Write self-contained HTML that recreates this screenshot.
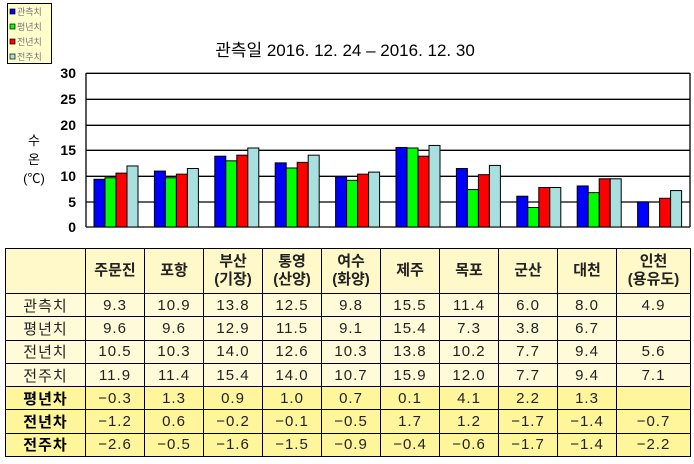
<!DOCTYPE html>
<html><head><meta charset="utf-8"><style>
body{margin:0;width:694px;height:464px;background:#fff;position:relative;overflow:hidden;font-family:"Liberation Sans","Noto Sans CJK KR",sans-serif}
table{position:absolute;left:5px;top:248px;border-collapse:collapse;table-layout:fixed}
td{border:1.5px solid #000;text-align:center;font-size:15px;padding:0;height:22.3px;color:#222;letter-spacing:1px}
tr.h td{height:44px;font-weight:bold;font-size:15px;line-height:18px;letter-spacing:0}
tr.a td{background:#fffbd8}
tr.b td{background:#fff59a}
tr.b td:first-child{font-weight:bold;color:#000}
tr.h td{background:#fff8c8}
</style></head><body>
<svg width="694" height="247" style="position:absolute;left:0;top:0">
<rect x="7.5" y="3.5" width="44" height="60" fill="#ffffcc" stroke="#000"/>
<g font-size="9" fill="#777" font-family="Liberation Sans,Noto Sans CJK KR,sans-serif">
<rect x="10" y="9" width="5" height="5" fill="#0000ff" stroke="#000" stroke-width="0.7"/><text x="17" y="15">관측치</text>
<rect x="10" y="24" width="5" height="5" fill="#00ff00" stroke="#000" stroke-width="0.7"/><text x="17" y="30">평년치</text>
<rect x="10" y="39" width="5" height="5" fill="#ff0000" stroke="#000" stroke-width="0.7"/><text x="17" y="45">전년치</text>
<rect x="10" y="54" width="5" height="5" fill="#a8e0e0" stroke="#000" stroke-width="0.7"/><text x="17" y="60">전주치</text>
</g>
<text x="345" y="56" font-size="17" text-anchor="middle" fill="#000">관측일 2016. 12. 24 – 2016. 12. 30</text>
<g stroke="#000" stroke-width="1.3">
<line x1="86" y1="73.3" x2="690" y2="73.3"/><line x1="86" y1="99.3" x2="690" y2="99.3"/><line x1="86" y1="125.3" x2="690" y2="125.3"/><line x1="86" y1="150.3" x2="690" y2="150.3"/><line x1="86" y1="176.3" x2="690" y2="176.3"/><line x1="86" y1="202" x2="690" y2="202"/><line x1="86" y1="227" x2="690" y2="227"/>
<line x1="86" y1="73" x2="86" y2="227"/><line x1="690" y1="73" x2="690" y2="227"/>
</g>
<g font-size="14" font-weight="bold" text-anchor="end" fill="#000">
<text x="76" y="78">30</text><text x="76" y="104">25</text><text x="76" y="130">20</text><text x="76" y="155">15</text><text x="76" y="181">10</text><text x="76" y="207">5</text><text x="76" y="232">0</text>
</g>
<g font-size="13" text-anchor="middle" fill="#000"><text x="34" y="145">수</text><text x="34" y="164">온</text><text x="34" y="183">(℃)</text></g>
<g id="bars" stroke="#000" stroke-width="1"></g>
</svg>
<script>
var d=[[9.3,9.6,10.5,11.9],[10.9,9.6,10.3,11.4],[13.8,12.9,14.0,15.4],[12.5,11.5,12.6,14.0],[9.8,9.1,10.3,10.7],[15.5,15.4,13.8,15.9],[11.4,7.3,10.2,12.0],[6.0,3.8,7.7,7.7],[8.0,6.7,9.4,9.4],[4.9,null,5.6,7.1]];
var c=["#0000ff","#00ff00","#ff0000","#a8e0e0"],s="";
d.forEach(function(g,k){g.forEach(function(v,i){if(v==null)return;var h=v*5.13,x=86+k*60.4+8+i*11;s+='<rect x="'+x+'" y="'+(227-h)+'" width="11" height="'+h+'" fill="'+c[i]+'"/>';});});
document.getElementById("bars").innerHTML=s;
</script>
<table>
<colgroup><col style="width:80px"><col style="width:59px"><col style="width:59px"><col style="width:59px"><col style="width:59px"><col style="width:59px"><col style="width:59px"><col style="width:59px"><col style="width:59px"><col style="width:59px"><col style="width:74px"></colgroup>
<tr class="h"><td></td><td>주문진</td><td>포항</td><td>부산<br>(기장)</td><td>통영<br>(산양)</td><td>여수<br>(화양)</td><td>제주</td><td>목포</td><td>군산</td><td>대천</td><td>인천<br>(용유도)</td></tr>
<tr class="a"><td>관측치</td><td>9.3</td><td>10.9</td><td>13.8</td><td>12.5</td><td>9.8</td><td>15.5</td><td>11.4</td><td>6.0</td><td>8.0</td><td>4.9</td></tr>
<tr class="a"><td>평년치</td><td>9.6</td><td>9.6</td><td>12.9</td><td>11.5</td><td>9.1</td><td>15.4</td><td>7.3</td><td>3.8</td><td>6.7</td><td></td></tr>
<tr class="a"><td>전년치</td><td>10.5</td><td>10.3</td><td>14.0</td><td>12.6</td><td>10.3</td><td>13.8</td><td>10.2</td><td>7.7</td><td>9.4</td><td>5.6</td></tr>
<tr class="a"><td>전주치</td><td>11.9</td><td>11.4</td><td>15.4</td><td>14.0</td><td>10.7</td><td>15.9</td><td>12.0</td><td>7.7</td><td>9.4</td><td>7.1</td></tr>
<tr class="b"><td>평년차</td><td>−0.3</td><td>1.3</td><td>0.9</td><td>1.0</td><td>0.7</td><td>0.1</td><td>4.1</td><td>2.2</td><td>1.3</td><td></td></tr>
<tr class="b"><td>전년차</td><td>−1.2</td><td>0.6</td><td>−0.2</td><td>−0.1</td><td>−0.5</td><td>1.7</td><td>1.2</td><td>−1.7</td><td>−1.4</td><td>−0.7</td></tr>
<tr class="b"><td>전주차</td><td>−2.6</td><td>−0.5</td><td>−1.6</td><td>−1.5</td><td>−0.9</td><td>−0.4</td><td>−0.6</td><td>−1.7</td><td>−1.4</td><td>−2.2</td></tr>
</table>
</body></html>
